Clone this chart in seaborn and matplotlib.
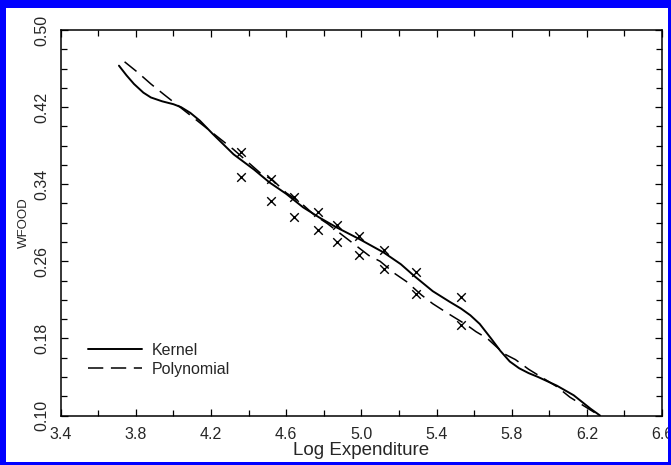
import matplotlib
matplotlib.use("Agg")
import matplotlib.pyplot as plt
import seaborn as sns
from matplotlib.patches import Rectangle
from matplotlib.ticker import MultipleLocator, FixedLocator

# ---- data ----
kernel_x = [3.71, 3.75, 3.79, 3.84, 3.88, 3.94, 4.00, 4.04, 4.09, 4.14, 4.21, 4.32,
            4.43, 4.51, 4.60, 4.69, 4.78, 4.87, 4.99, 5.12, 5.21, 5.28, 5.38, 5.47,
            5.53, 5.58, 5.63, 5.69, 5.74, 5.79, 5.84, 5.89, 5.94, 6.04, 6.13, 6.22, 6.27]
kernel_y = [0.463, 0.453, 0.444, 0.435, 0.430, 0.426, 0.423, 0.420, 0.414, 0.406,
            0.392, 0.371, 0.355, 0.342, 0.330, 0.316, 0.305, 0.295, 0.283, 0.269,
            0.257, 0.245, 0.229, 0.218, 0.211, 0.204, 0.195, 0.180, 0.167, 0.156,
            0.149, 0.144, 0.140, 0.131, 0.121, 0.107, 0.100]

poly_x = [3.74, 3.81, 3.88, 3.95, 4.10, 4.32, 4.46, 4.53, 4.60, 4.67, 4.75, 4.82,
          5.04, 5.10, 5.18, 5.24, 5.32, 5.38, 5.46, 5.56, 5.61, 5.67, 5.76, 5.82,
          5.89, 5.94, 6.04, 6.11, 6.25]
poly_y = [0.467, 0.456, 0.444, 0.433, 0.410, 0.376, 0.352, 0.344, 0.331, 0.322,
          0.308, 0.299, 0.266, 0.260, 0.247, 0.239, 0.225, 0.216, 0.206, 0.194,
          0.187, 0.180, 0.164, 0.158, 0.148, 0.142, 0.130, 0.119, 0.102]

obs_x = [4.36, 4.36, 4.52, 4.52, 4.64, 4.64, 4.77, 4.77, 4.87, 4.87,
         4.99, 4.99, 5.12, 5.12, 5.29, 5.29, 5.53, 5.53]
obs_y = [0.373, 0.347, 0.345, 0.323, 0.327, 0.306, 0.311, 0.292, 0.298, 0.280,
         0.286, 0.267, 0.272, 0.252, 0.249, 0.226, 0.223, 0.194]

x_ticks = [3.4, 3.8, 4.2, 4.6, 5.0, 5.4, 5.8, 6.2, 6.6]
x_tick_labels = ["3.4", "3.8", "4.2", "4.6", "5.0", "5.4", "5.8", "6.2", "6.6"]
y_ticks = [0.10, 0.18, 0.26, 0.34, 0.42, 0.50]
y_tick_labels = ["0.10", "0.18", "0.26", "0.34", "0.42", "0.50"]

sns.set_style("ticks")
plt.rcParams['font.family'] = ['Liberation Sans', 'DejaVu Sans']

W, H = 671, 465
fig = plt.figure(figsize=(W / 100, H / 100), dpi=100)
left, right, top, bottom = 60.7, 662.0, 30.0, 415.5
ax = fig.add_axes([left / W, 1 - bottom / H, (right - left) / W, (bottom - top) / H])

sns.lineplot(x=kernel_x, y=kernel_y, ax=ax, color='black', linewidth=1.4,
             label='Kernel', sort=False)
sns.lineplot(x=poly_x, y=poly_y, ax=ax, color='black', linewidth=1.1,
             linestyle=(0, (10, 5)), label='Polynomial', sort=False)
sns.scatterplot(x=obs_x, y=obs_y, ax=ax, marker='x', color='black', s=38,
                linewidth=1.0, zorder=3)

ax.set_xlim(3.4, 6.6)
ax.set_ylim(0.10, 0.50)
ax.xaxis.set_major_locator(FixedLocator(x_ticks))
ax.set_xticklabels(x_tick_labels, fontsize=11.5)
ax.xaxis.set_minor_locator(MultipleLocator(0.2))
ax.yaxis.set_major_locator(FixedLocator(y_ticks))
ax.set_yticklabels(y_tick_labels, fontsize=11.5, rotation=90, va='center')
ax.yaxis.set_minor_locator(MultipleLocator(0.02))
ax.tick_params(which='both', direction='in', top=True, right=True,
               width=0.9, color='black')
ax.tick_params(which='major', length=5, pad=8)
ax.tick_params(which='minor', length=4)
for s in ax.spines.values():
    s.set_linewidth(1.1)
    s.set_color('black')

ax.set_xlabel("Log Expenditure", fontsize=13.5, labelpad=0)
ax.set_ylabel("WFOOD", fontsize=9.5, labelpad=3)

ax.legend(loc='lower left', bbox_to_anchor=(0.045, 0.10), frameon=False,
          fontsize=11.5, handlelength=3.4, handletextpad=0.6, labelspacing=0.25,
          borderpad=0, borderaxespad=0)

blue = '#0000ff'
for (x0, y0, w, h) in [(0, H - 8, W, 8), (0, 0, 6, H), (0, 0, W, 3), (W - 3, 0, 3, H)]:
    fig.add_artist(Rectangle((x0 / W, y0 / H), w / W, h / H, transform=fig.transFigure,
                             facecolor=blue, edgecolor='none', zorder=10))

fig.savefig("out.png", dpi=100)
